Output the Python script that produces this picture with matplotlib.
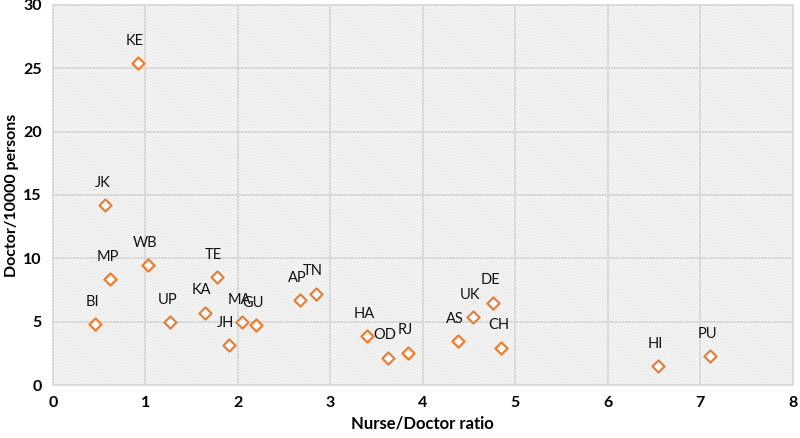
import matplotlib
matplotlib.use("Agg")
import matplotlib.pyplot as plt
from matplotlib.patches import Rectangle

plt.rcParams["font.family"] = ["Lato", "DejaVu Sans"]
plt.rcParams["hatch.linewidth"] = 0.7

# state codes with nurse/doctor ratio and doctors per 10000 persons
states = ["KE", "JK", "MP", "WB", "BI", "UP", "TE", "KA", "MA", "GU", "JH",
          "AP", "TN", "HA", "OD", "RJ", "AS", "UK", "DE", "CH", "HI", "PU"]
nurse_doctor = [0.92, 0.565, 0.62, 1.03, 0.455, 1.27, 1.77, 1.64, 2.045, 2.20,
                1.90, 2.675, 2.84, 3.40, 3.62, 3.84, 4.38, 4.54, 4.76, 4.85,
                6.54, 7.11]
doctor_10k = [25.4, 14.2, 8.35, 9.45, 4.8, 4.95, 8.5, 5.7, 4.95, 4.7, 3.15,
              6.7, 7.2, 3.85, 2.15, 2.55, 3.45, 5.35, 6.5, 2.95, 1.5, 2.25]

ORANGE = "#ED7D31"
GRID = "#d9d9d9"

fig = plt.figure(figsize=(8, 4.38), dpi=100)
ax = fig.add_axes([0.066, 0.121, 0.925, 0.868])

# hatched plot area
bg = Rectangle((0, 0), 1, 1, transform=ax.transAxes, facecolor="white",
               edgecolor="#e0e0e0", linewidth=0, hatch="\\" * 11, zorder=0)
ax.add_patch(bg)
ax.set_facecolor("white")

ax.scatter(nurse_doctor, doctor_10k, marker="D", s=38, facecolor="white",
           edgecolor=ORANGE, linewidth=1.6, zorder=4)
for name, x, y in zip(states, nurse_doctor, doctor_10k):
    ax.annotate(name, (x, y), xytext=(-2, 11), textcoords="offset points",
                ha="center", va="bottom", fontsize=10.5, color="#111111",
                zorder=5)

ax.set_xlim(0, 8)
ax.set_ylim(0, 30)
ax.set_xticks(range(0, 9))
ax.set_yticks(range(0, 31, 5))
ax.grid(True, color=GRID, linewidth=1.3, zorder=1)
ax.set_axisbelow(True)
for s in ax.spines.values():
    s.set_color(GRID)
    s.set_linewidth(1.3)
ax.tick_params(length=0, labelsize=11.5, pad=8)
for lab in ax.get_xticklabels() + ax.get_yticklabels():
    lab.set_fontweight("bold")

ax.set_xlabel("Nurse/Doctor ratio", fontsize=12, fontweight="bold", labelpad=4)
ax.set_ylabel("Doctor/10000 persons", fontsize=11.5, fontweight="bold",
              labelpad=3)

fig.savefig("out.png", dpi=100)
